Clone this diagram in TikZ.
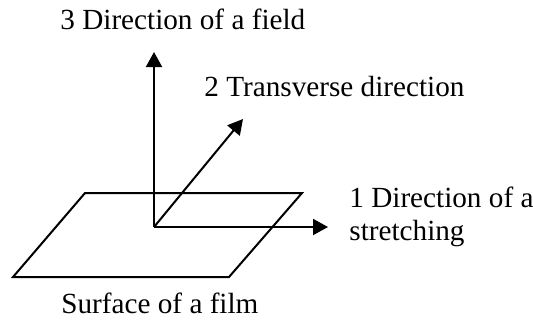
\documentclass[tikz,border=0pt]{standalone}
\usepackage{fontspec}
\setmainfont{Liberation Serif}
\usetikzlibrary{arrows.meta}
\begin{document}
\begin{tikzpicture}[x=0.5bp,y=-0.5bp,
  axis/.style={line width=1bp,-{Triangle[length=7.5bp,width=8bp]}},
  film/.style={line width=1bp,line join=miter},
  lbl/.style={anchor=base west,inner sep=0pt,font=\fontsize{14.6bp}{16.5bp}\selectfont,align=left}]
\useasboundingbox (0,0) rectangle (533,322);
% film surface
\coordinate (p1) at (85,193);
\coordinate (p2) at (302,193);
\coordinate (p3) at (229,277);
\coordinate (p4) at (13,277);
\draw[film] (p1) -- (p2) -- (p3) -- (p4) -- cycle;
% axes
\coordinate (O) at (154,227);
\coordinate (t3) at (154,52);
\coordinate (t2) at (243,119);
\coordinate (t1) at (328,227);
\draw[axis] (O) -- (t3);
\draw[axis] (O) -- (t2);
\draw[axis] (O) -- (t1);
% labels
\node[lbl] (l3) at (60,29) {3 Direction of a field};
\node[lbl] (l2) at (204,96) {2 Transverse direction};
\node[lbl] (l1) at (349,240) {1 Direction of a\\stretching};
\node[lbl] (ls) at (61,313) {Surface of a film};
\end{tikzpicture}
\end{document}
